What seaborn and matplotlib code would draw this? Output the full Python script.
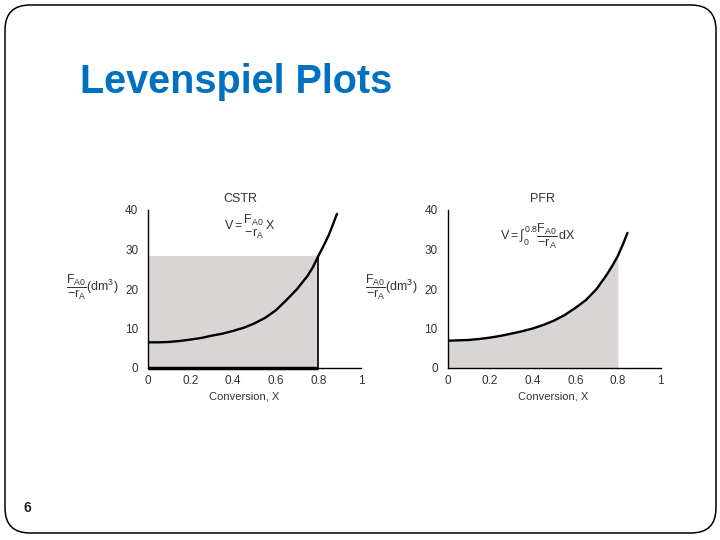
import numpy as np
import pandas as pd
import matplotlib.pyplot as plt
import matplotlib.patches as mpatches
import matplotlib.transforms as mtrans
import seaborn as sns

# values
cstr_x = [0, 0.05, 0.1, 0.15, 0.2, 0.25, 0.3, 0.35, 0.4, 0.45, 0.5, 0.55, 0.6,
          0.65, 0.7, 0.75, 0.775, 0.8, 0.825, 0.85, 0.87, 0.887]
cstr_y = [6.5, 6.5, 6.6, 6.85, 7.2, 7.6, 8.2, 8.7, 9.4, 10.2, 11.3, 12.7, 14.6,
          17.2, 20.0, 23.4, 25.6, 28.4, 31.0, 33.8, 36.6, 39.0]

pfr_x = [0, 0.05, 0.1, 0.15, 0.2, 0.25, 0.3, 0.35, 0.4, 0.45, 0.5, 0.55, 0.6,
         0.65, 0.7, 0.75, 0.775, 0.8, 0.825, 0.845]
pfr_y = [6.9, 7.0, 7.1, 7.35, 7.7, 8.15, 8.7, 9.3, 10.0, 10.9, 12.0, 13.4, 15.2,
         17.2, 20.0, 23.8, 26.0, 28.4, 31.5, 34.2]

x_exit = 0.8
x_ticks = [0, 0.2, 0.4, 0.6, 0.8, 1]
x_tick_labels = ['0', '0.2', '0.4', '0.6', '0.8', '1']
y_ticks = [0, 10, 20, 30, 40]

sns.set_style('white')
plt.rcParams['font.family'] = ['Liberation Sans', 'DejaVu Sans']
plt.rcParams['mathtext.fontset'] = 'custom'
plt.rcParams['mathtext.rm'] = 'Liberation Sans'
plt.rcParams['mathtext.it'] = 'Liberation Sans'
plt.rcParams['mathtext.bf'] = 'Liberation Sans:bold'

FILL = '#d9d5d5'
TXT = '#333333'

fig = plt.figure(figsize=(7.2, 5.4), dpi=100)

# slide frame
frame = mpatches.FancyBboxPatch(
    (5, 7), 711, 528,
    boxstyle='round,pad=0,rounding_size=25',
    transform=mtrans.IdentityTransform(),
    fill=False, edgecolor='black', linewidth=1.1
)
fig.add_artist(frame)

fig.text(80/720, 1 - 82/540, 'Levenspiel Plots', fontsize=28.5, weight='bold',
         color='#0070C0', va='center', ha='left')
fig.text(24/720, 1 - 508/540, '6', fontsize=10, weight='bold', va='center', ha='left')


def style_axes(ax, xlab_x):
    ax.set_xlim(0, 1)
    ax.set_ylim(0, 40)
    for loc in ['top', 'right']:
        ax.spines[loc].set_visible(False)
    for loc in ['left', 'bottom']:
        ax.spines[loc].set_color('black')
        ax.spines[loc].set_linewidth(1.0)
    ax.set_xticks(x_ticks)
    ax.set_xticklabels(x_tick_labels)
    ax.set_yticks(y_ticks)
    ax.tick_params(axis='both', length=0, labelsize=8.5, labelcolor=TXT)
    ax.tick_params(axis='x', pad=5)
    ax.tick_params(axis='y', pad=7)
    ax.set_xlabel('Conversion, X', fontsize=8, color=TXT)
    ax.xaxis.set_label_coords(xlab_x, -0.15)
    ax.set_ylabel('')
    ax.text(-0.263, 0.51, r'$\dfrac{F_{A0}}{-r_A}(\mathrm{dm}^3)$', transform=ax.transAxes,
            ha='center', va='center', fontsize=9, color=TXT)
    ax.grid(False)


# CSTR panel
ax1 = fig.add_axes([148/720, 1 - 368/540, 213/720, 158/540])
y_exit_cstr = cstr_y[cstr_x.index(x_exit)]
ax1.fill_between([0, x_exit], 0, y_exit_cstr, color=FILL, linewidth=0, zorder=1)
ax1.vlines(x_exit, 0, y_exit_cstr, color='black', linewidth=1.2, zorder=3)
ax1.hlines(0, 0, x_exit, color='black', linewidth=2.5, zorder=3, clip_on=False)
sns.lineplot(x=cstr_x, y=cstr_y, ax=ax1, color='black', linewidth=1.7, zorder=4)
style_axes(ax1, 0.453)
ax1.text(0.432, 1.07, 'CSTR', transform=ax1.transAxes, ha='center', va='center',
         fontsize=9, color=TXT)
ax1.text(0.48, 0.895, r'$V = \genfrac{}{}{0}{0}{F_{A0}}{-r_A}\,X$', transform=ax1.transAxes,
         ha='center', va='center', fontsize=9, color=TXT)

# PFR panel
ax2 = fig.add_axes([447.5/720, 1 - 368/540, 213/720, 158/540])
pfr = pd.DataFrame({'x': pfr_x, 'y': pfr_y})
under = pfr[pfr['x'] <= x_exit]
ax2.fill_between(under['x'], 0, under['y'], color=FILL, linewidth=0, zorder=1)
sns.lineplot(data=pfr, x='x', y='y', ax=ax2, color='black', linewidth=1.7, zorder=4)
style_axes(ax2, 0.495)
ax2.text(0.425, 0.83, r'$V = \int_0^{0.8}\dfrac{F_{A0}}{-r_A}\,\mathrm{dX}$', transform=ax2.transAxes,
         ha='center', va='center', fontsize=9, color=TXT)
ax2.text(0.444, 1.07, 'PFR', transform=ax2.transAxes, ha='center', va='center',
         fontsize=9, color=TXT)

fig.savefig('out.png', dpi=100)
